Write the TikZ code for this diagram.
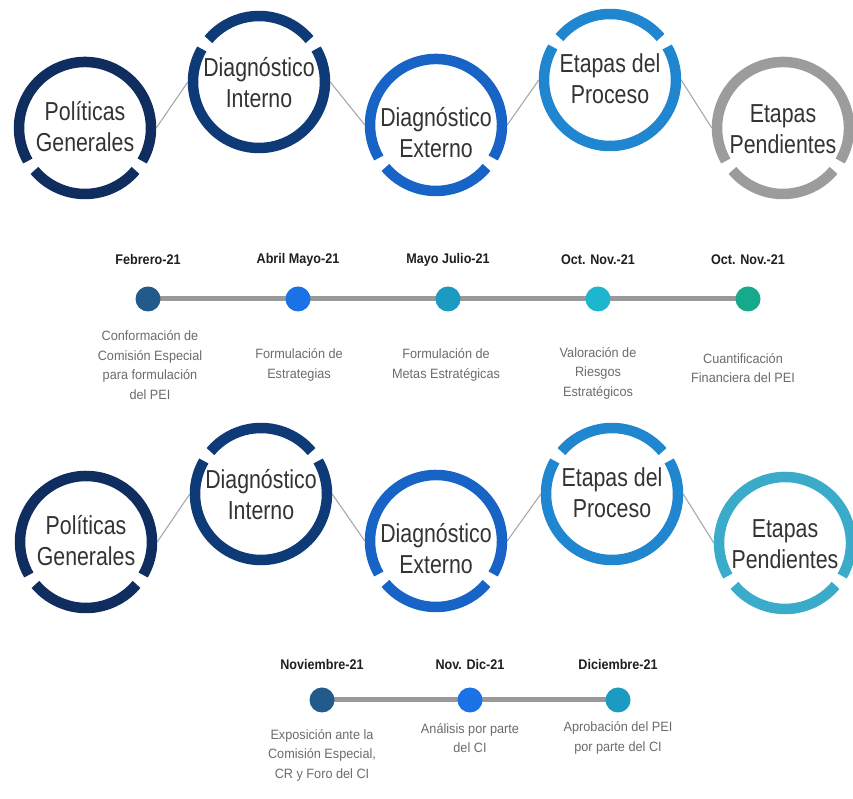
\documentclass[tikz,border=0pt]{standalone}
\usepackage{fontspec}
\setmainfont{Liberation Sans}
\newfontfamily\condf[FakeStretch=0.82]{Liberation Sans}
\newfontfamily\datef[FakeStretch=0.9]{Liberation Sans}
\newfontfamily\descf[FakeStretch=0.94]{Liberation Sans}
\usetikzlibrary{backgrounds}
\definecolor{cnavy}{HTML}{0F2D5E}
\definecolor{cdark}{HTML}{0E3A78}
\definecolor{cmid}{HTML}{1864C6}
\definecolor{clight}{HTML}{1F86CF}
\definecolor{cgray}{HTML}{9C9C9C}
\definecolor{cteal}{HTML}{3AABC9}
\definecolor{ctext}{HTML}{333333}
\definecolor{cline}{HTML}{A8A8A8}
\definecolor{dA}{HTML}{235A8C}
\definecolor{dB}{HTML}{1A72E6}
\definecolor{dC}{HTML}{1B9AC2}
\definecolor{dD}{HTML}{1EB6CE}
\definecolor{dE}{HTML}{16A98B}
\newcommand\lowring[2]{%
  \draw[ring,draw=#2] (#1.center) ++(-140:66) arc[start angle=-140,end angle=-40,radius=66];
  \draw[ring,draw=#2] (#1.center) ++(-30:66) arc[start angle=-30,end angle=210,radius=66];}
\newcommand\highring[2]{%
  \draw[ring,draw=#2] (#1.center) ++(40:66) arc[start angle=40,end angle=140,radius=66];
  \draw[ring,draw=#2] (#1.center) ++(150:66) arc[start angle=150,end angle=390,radius=66];}
\begin{document}
\begin{tikzpicture}[x=1pt,y=1pt,
  stage/.style={circle, minimum size=142pt, inner sep=0pt},
  label text/.style={align=center, inner sep=0pt,
    font=\condf\fontsize{26}{31}\selectfont, text=ctext},
  ring/.style={line width=10.5pt},
  link/.style={draw=cline, line width=1.1pt},
  date/.style={font=\datef\bfseries\fontsize{14}{16}\selectfont, text=black!88},
  desc/.style={align=center, font=\descf\fontsize{13.5}{19.5}\selectfont, text=black!58},
  dot/.style={circle, minimum size=25pt, inner sep=0pt},
  track/.style={draw=black!40, line width=5pt}
]
\useasboundingbox (0,0) rectangle (853,799);

% ---------- top row of stages ----------
\node[stage] (c1) at (85,671) {};
\node[stage] (c2) at (259,717) {};
\node[stage] (c3) at (436,674) {};
\node[stage] (c4) at (610,719) {};
\node[stage] (c5) at (783,671) {};
\node[label text] (c1t) at ([yshift=1pt]c1.center) {Políticas\\Generales};
\node[label text] (c2t) at ([yshift=-1pt]c2.center) {Diagnóstico\\Interno};
\node[label text] (c3t) at ([yshift=-8pt]c3.center) {Diagnóstico\\Externo};
\node[label text] (c4t) at ([yshift=1pt]c4.center) {Etapas del\\Proceso};
\node[label text] (c5t) at ([yshift=-1pt]c5.center) {Etapas\\Pendientes};
\draw[link] (c1.east) -- (c2.west);
\draw[link] (c2.east) -- (c3.west);
\draw[link] (c3.east) -- (c4.west);
\draw[link] (c4.east) -- (c5.west);
\lowring{c1}{cnavy}
\highring{c2}{cdark}
\lowring{c3}{cmid}
\highring{c4}{clight}
\lowring{c5}{cgray}

% ---------- first timeline ----------
\node[dot, fill=dA] (t1) at (148,500) {};
\node[dot, fill=dB] (t2) at (298,500) {};
\node[dot, fill=dC] (t3) at (448,500) {};
\node[dot, fill=dD] (t4) at (598,500) {};
\node[dot, fill=dE] (t5) at (748,500) {};
\begin{pgfonlayer}{background}
\draw[track] (t1.center) -- (t5.center);
\end{pgfonlayer}
\node[date] (l1) at (148,539) {Febrero-21};
\node[date] (l2) at (298,539) {Abril Mayo-21};
\node[date] (l3) at (448,539) {Mayo Julio-21};
\node[date] (l4) at (598,539) {Oct. Nov.-21};
\node[date] (l5) at (748,539) {Oct. Nov.-21};
\node[desc] (e1) at (150,434) {Conformación de\\Comisión Especial\\para formulación\\del PEI};
\node[desc] (e2) at (299,434) {Formulación de\\Estrategias};
\node[desc] (e3) at (446,434) {Formulación de\\Metas Estratégicas};
\node[desc] (e4) at (598,426) {Valoración de\\Riesgos\\Estratégicos};
\node[desc] (e5) at (743,431) {Cuantificación\\Financiera del PEI};

% ---------- bottom row of stages ----------
\node[stage] (d1) at (86,257) {};
\node[stage] (d2) at (261,305) {};
\node[stage] (d3) at (436,258) {};
\node[stage] (d4) at (612,305) {};
\node[stage] (d5) at (785,256) {};
\node[label text] (d1t) at ([yshift=1pt]d1.center) {Políticas\\Generales};
\node[label text] (d2t) at ([yshift=-1pt]d2.center) {Diagnóstico\\Interno};
\node[label text] (d3t) at ([yshift=-8pt]d3.center) {Diagnóstico\\Externo};
\node[label text] (d4t) at ([yshift=1pt]d4.center) {Etapas del\\Proceso};
\node[label text] (d5t) at ([yshift=-1pt]d5.center) {Etapas\\Pendientes};
\draw[link] (d1.east) -- (d2.west);
\draw[link] (d2.east) -- (d3.west);
\draw[link] (d3.east) -- (d4.west);
\draw[link] (d4.east) -- (d5.west);
\lowring{d1}{cnavy}
\highring{d2}{cdark}
\lowring{d3}{cmid}
\highring{d4}{clight}
\lowring{d5}{cteal}

% ---------- second timeline ----------
\node[dot, fill=dA] (s1) at (322,99) {};
\node[dot, fill=dB] (s2) at (470,99) {};
\node[dot, fill=dC] (s3) at (618,99) {};
\begin{pgfonlayer}{background}
\draw[track] (s1.center) -- (s3.center);
\end{pgfonlayer}
\node[date] (m1) at (322,134) {Noviembre-21};
\node[date] (m2) at (470,134) {Nov. Dic-21};
\node[date] (m3) at (618,134) {Diciembre-21};
\node[desc] (f1) at (322,44) {Exposición ante la\\Comisión Especial,\\CR y Foro del CI};
\node[desc] (f2) at (470,61) {Análisis por parte\\del CI};
\node[desc] (f3) at (618,61) {Aprobación del PEI\\por parte del CI};
\end{tikzpicture}
\end{document}
